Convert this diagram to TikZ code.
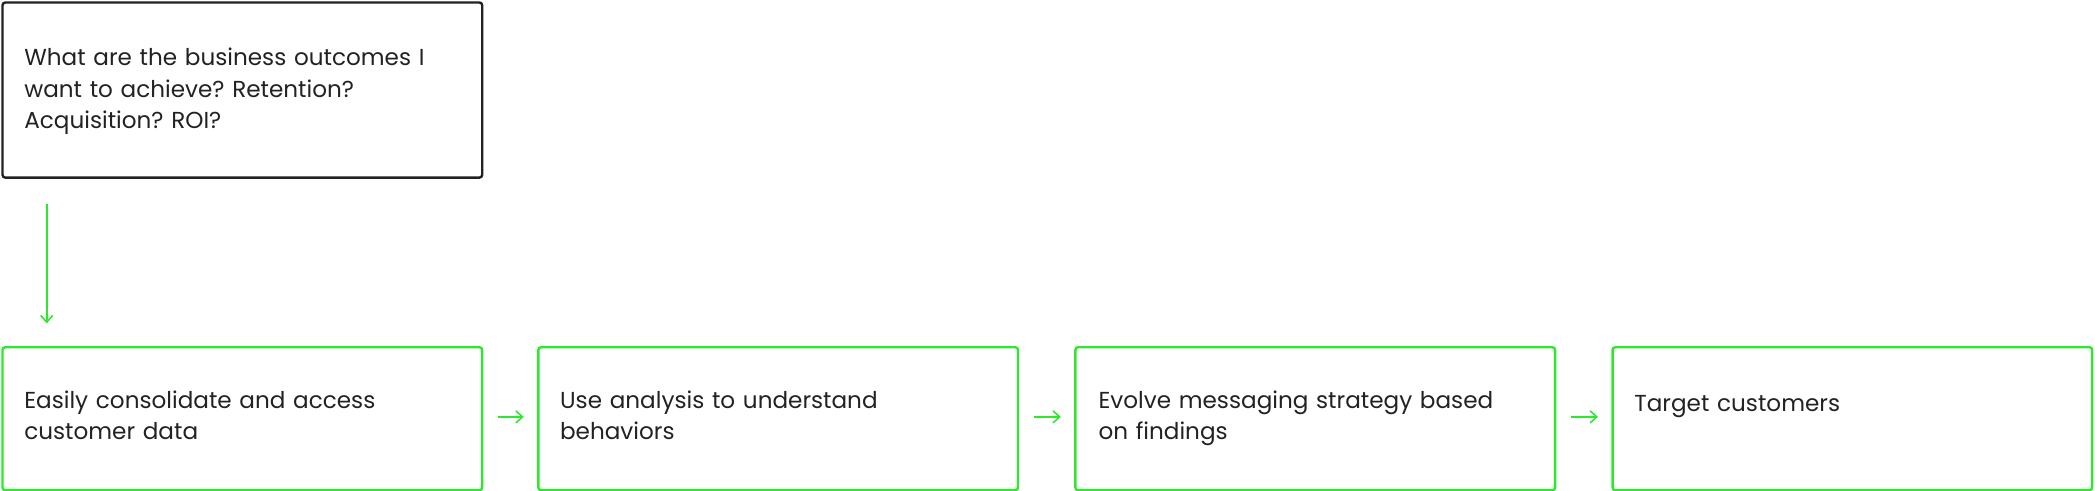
\documentclass[tikz,border=0pt]{standalone}
\usepackage{fontspec}
\setmainfont{Poppins}
\usetikzlibrary{arrows.meta}
\definecolor{grn}{HTML}{2EE82E}
\definecolor{blk}{HTML}{222222}
\tikzset{
 box/.style={draw=grn,line width=1.8pt,rounded corners=2pt,minimum width=359pt,minimum height=107pt,anchor=north west,inner sep=0pt},
 txt/.style={anchor=north west,align=left,text width=330pt,font=\frenchspacing\fontsize{17.3}{23.5}\selectfont,text=blk,inner sep=0pt},
 arr/.style={draw=grn,line width=1.2pt,-{Straight Barb[length=5pt,width=9pt]}}
}
\begin{document}
\begin{tikzpicture}[x=1pt,y=-1pt]
\useasboundingbox (0,0) rectangle (1568,367);
\node[box,draw=blk,minimum height=131pt] (b0) at (1,1) {};
\node[txt] at (18,36) {What are the business outcomes I\\want to achieve? Retention?\\Acquisition? ROI?};
\node[box] (b1) at (1,259) {};
\node[box] (b2) at (402,259) {};
\node[box] (b3) at (804,259) {};
\node[box] (b4) at (1206,259) {};
\node[txt] at (18,292) {Easily consolidate and access\\customer data};
\node[txt] at (419,292) {Use analysis to understand\\behaviors};
\node[txt] at (822,292) {Evolve messaging strategy based\\on findings};
\node[txt] at (1223,296) {Target customers};
\coordinate (a0) at (35,153); \coordinate (a1) at (35,242);
\draw[arr] (a0) -- (a1);
\draw[arr] ([xshift=11pt,yshift=-53pt]b1.north east) -- ([xshift=-10pt,yshift=-53pt]b2.north west);
\draw[arr] ([xshift=11pt,yshift=-53pt]b2.north east) -- ([xshift=-10pt,yshift=-53pt]b3.north west);
\draw[arr] ([xshift=11pt,yshift=-53pt]b3.north east) -- ([xshift=-10pt,yshift=-53pt]b4.north west);
\end{tikzpicture}
\end{document}
